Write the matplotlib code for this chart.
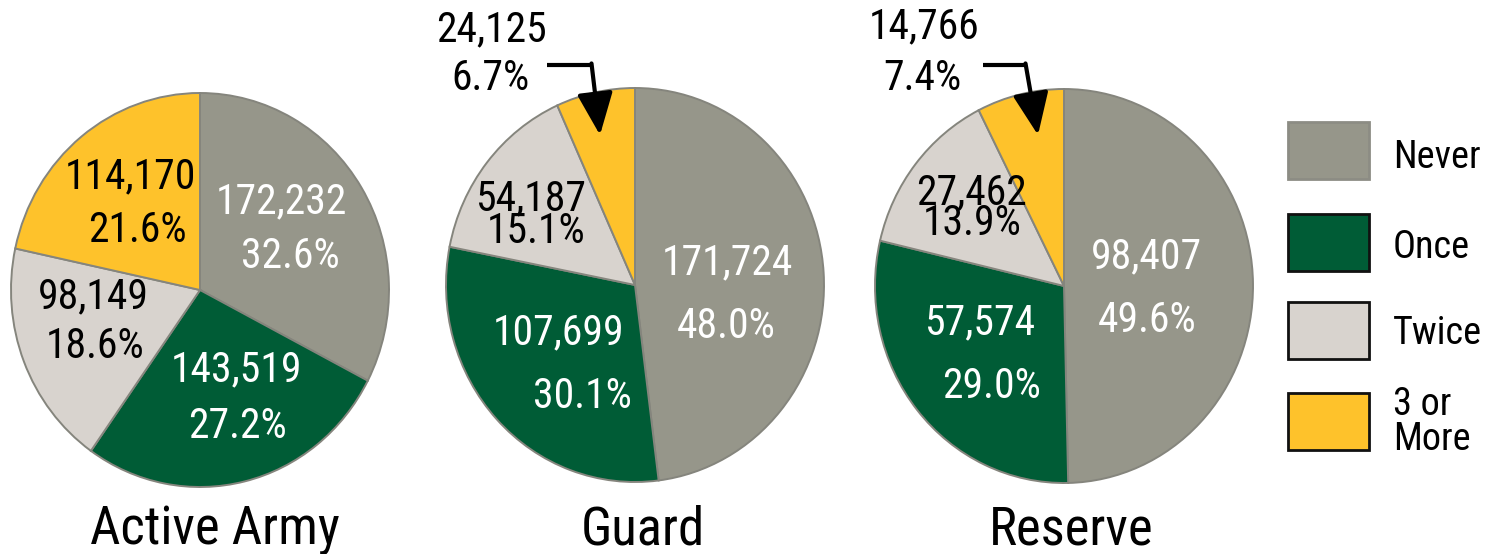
import matplotlib
matplotlib.use('Agg')
import matplotlib.pyplot as plt
from matplotlib.patches import Rectangle
from matplotlib import font_manager

# pick a narrow face if one is there, otherwise shrink the sizes
narrow = None
for name in ['Roboto Condensed', 'Open Sans Condensed', 'Liberation Sans Narrow', 'Noto Sans Condensed']:
    try:
        font_manager.findfont(font_manager.FontProperties(family=name), fallback_to_default=False)
        narrow = name
        break
    except ValueError:
        pass

if narrow:
    plt.rcParams['font.family'] = [narrow, 'Liberation Sans']
    s = 1.0
else:
    plt.rcParams['font.family'] = ['Liberation Sans', 'DejaVu Sans']
    s = 0.84

categories = ['Never', 'Once', 'Twice', '3 or\nMore']
groups = ['Active Army', 'Guard', 'Reserve']
active = [172232, 143519, 98149, 114170]
guard = [171724, 107699, 54187, 24125]
reserve = [98407, 57574, 27462, 14766]
active_pct = ['32.6%', '27.2%', '18.6%', '21.6%']
guard_pct = ['48.0%', '30.1%', '15.1%', '6.7%']
reserve_pct = ['49.6%', '29.0%', '13.9%', '7.4%']

colors = ['#96968a', '#005c36', '#d8d3ce', '#fec22b']
text_colors = ['white', 'white', 'black', 'black']
legend_edges = ['#8c8c84', '#111111', '#111111', '#111111']

W, H = 1491, 554
K = 189 / 197.0   # pies are a bit taller than wide


def Y(y):
    # image pixel row -> data y
    return (H - y) * K


fig = plt.figure(figsize=(W / 100, H / 100), dpi=100)
ax = fig.add_axes([0, 0, 1, 1])

centers = [(200, 290), (635, 285), (1064, 286)]
radius = 189

# label positions, one (x, y) per line, in image pixels;
# a single (x, y, ha, linespacing) means both lines are set as one block
label_pos = [
    [((281, 202), (290, 257)), ((237, 370), (237, 427)), ((93, 297), (95, 347)), ((130, 177), (137, 230))],
    [((727, 263), (726, 327)), ((559, 333), (582, 397)), (586, 215, 'right', 0.74), ((491, 30), (491, 78))],
    [((1146, 257), (1147, 320)), ((980, 323), (992, 387)), (972, 208, 'center', 0.66), ((924, 27), (922, 78))],
]
title_x = [215, 643, 1071]

data = [active, guard, reserve]
pcts = [active_pct, guard_pct, reserve_pct]
fs_lab = 30 * s

for g in range(3):
    cx, cy = centers[g]
    ax.pie(data[g], colors=colors, startangle=90, counterclock=False,
           radius=radius, center=(cx, Y(cy)),
           wedgeprops=dict(edgecolor='#85857d', linewidth=1.4))
    for i in range(4):
        pos = label_pos[g][i]
        num = f'{data[g][i]:,}'
        if len(pos) == 4:
            x, y, ha, ls = pos
            ax.text(x, Y(y), num + '\n' + pcts[g][i], ha=ha, va='center',
                    multialignment=ha, linespacing=ls,
                    fontsize=fs_lab, color=text_colors[i])
            continue
        (x1, y1), (x2, y2) = pos
        ax.text(x1, Y(y1), num, ha='center', va='center',
                fontsize=fs_lab, color=text_colors[i])
        ax.text(x2, Y(y2), pcts[g][i], ha='center', va='center',
                fontsize=fs_lab, color=text_colors[i])
    ax.text(title_x[g], Y(530), groups[g], ha='center', va='center', fontsize=38 * s)

# arrows pointing at the small yellow slices
arrows = [((547, 65), (593, 65), (600, 135)), ((983, 65), (1027, 65), (1038, 135))]
for (p0, p1, p2) in arrows:
    ax.plot([p0[0], p1[0]], [Y(p0[1]), Y(p1[1])], color='black', lw=3,
            solid_capstyle='butt')
    ax.annotate('', xy=(p2[0], Y(p2[1])), xytext=(p1[0] - 1.5, Y(p1[1]) + 1.5),
                arrowprops=dict(arrowstyle='-|>,head_length=1.3,head_width=0.55',
                                color='black', lw=3, mutation_scale=20,
                                shrinkA=0, shrinkB=0))

# legend
box_y = [122, 214, 302, 393]
fs_leg = 27.5 * s
for i in range(4):
    ax.add_patch(Rectangle((1288, Y(box_y[i] + 57)), 81, 57 * K,
                           facecolor=colors[i], edgecolor=legend_edges[i], lw=2))
ax.text(1393, Y(157), categories[0], ha='left', va='center', fontsize=fs_leg)
ax.text(1393, Y(248), categories[1], ha='left', va='center', fontsize=fs_leg)
ax.text(1393, Y(333), categories[2], ha='left', va='center', fontsize=fs_leg)
ax.text(1393, Y(422), categories[3], ha='left', va='center', fontsize=fs_leg,
        linespacing=0.95)

ax.set_aspect('auto')
ax.set_xlim(0, W)
ax.set_ylim(0, H * K)
ax.axis('off')

fig.savefig('out.png', dpi=100, facecolor='white')
